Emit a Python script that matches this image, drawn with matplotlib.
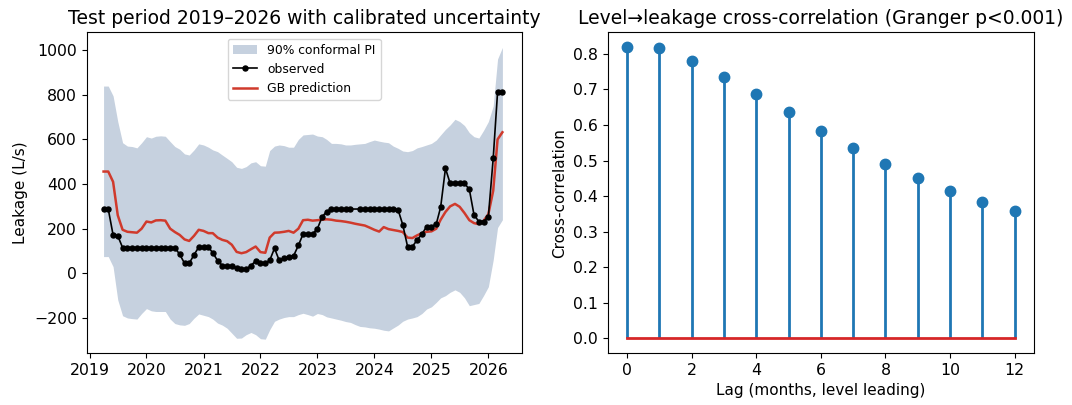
"""
Leakage test period with conformal interval + level->leakage cross-correlation
"""

import numpy as np
import pandas as pd
import matplotlib
matplotlib.use("Agg")
import matplotlib.pyplot as plt
import matplotlib.dates as mdates

# ============================================================
# Data (monthly, Apr 2019 .. Apr 2026)
# ============================================================
start_month = "2019-04-01"
n_months = 85

# observed leakage, L/s (nan = missing month)
observed = [
    288, 288, 172, 168, 115, 115, 115, 115, 115, 115,
    115, 115, 115, 115, 115, 115, 85, 45, 45, 83,
    117, 117, 117, 92, 57, 35, 33, 33, 22, 18,
    18, 35, 55, 45, 45, 58, 112, 58, 68, 75,
    78, 125, 176, 176, 176, 200, 254, 276, 288, 288,
    288, 288, 288, np.nan, 288, 288, 288, 288, 288, 288,
    288, 288, 285, 218, 120, 120, 149, 176, 209, 209,
    221, 296, 470, 403, 403, 403, 403, 376, 262, 232,
    232, 254, 515, 812, 812,
]

# gradient boosting prediction
gb_pred = [
    456, 456, 410, 260, 195, 186, 184, 182, 200, 232,
    228, 237, 238, 236, 200, 185, 172, 152, 145, 168,
    195, 190, 180, 180, 160, 150, 144, 128, 96, 90,
    95, 108, 120, 95, 92, 160, 182, 183, 186, 190,
    182, 200, 238, 240, 236, 238, 240, 242, 240, 236,
    234, 231, 227, 222, 218, 214, 205, 195, 187, 207,
    198, 194, 190, 185, 160, 158, 170, 180, 186, 188,
    200, 240, 275, 300, 311, 298, 270, 238, 225, 220,
    235, 265, 370, 600, 632,
]

# 90% conformal prediction interval
pi_upper = [
    839, 839, 795, 680, 585, 570, 568, 562, 585, 612,
    606, 614, 616, 614, 590, 568, 556, 535, 530, 553,
    580, 575, 565, 553, 545, 530, 515, 500, 475, 470,
    478, 495, 500, 482, 480, 550, 570, 575, 572, 565,
    565, 600, 620, 622, 624, 615, 612, 600, 582, 582,
    580, 575, 575, 578, 580, 582, 590, 597, 592, 588,
    585, 570, 560, 548, 545, 550, 562, 568, 575, 582,
    597, 620, 645, 665, 690, 680, 662, 630, 612, 606,
    640, 680, 750, 960, 1012,
]
pi_lower = [
    75, 75, 30, -119, -190, -200, -203, -205, -180, -158,
    -168, -171, -171, -171, -205, -225, -231, -233, -225, -201,
    -182, -188, -194, -205, -223, -232, -246, -268, -291, -290,
    -275, -265, -275, -293, -295, -253, -215, -205, -198, -194,
    -194, -185, -179, -185, -192, -180, -185, -195, -200, -205,
    -210, -216, -220, -230, -238, -240, -244, -246, -250, -255,
    -258, -245, -232, -215, -205, -200, -194, -180, -160, -150,
    -130, -110, -100, -85, -74, -85, -110, -145, -140, -135,
    -100, -60, 60, 205, 240,
]

# cross-correlation, level leading leakage
lags = list(range(13))
xcorr = [0.819, 0.817, 0.781, 0.735, 0.686, 0.636, 0.584,
         0.536, 0.491, 0.452, 0.415, 0.383, 0.359]

BAND_COLOR = "#c6d1df"
PRED_COLOR = "#d03a2c"
TICK_FS = 11.3
LABEL_FS = 11
TITLE_FS = 13.5

# ============================================================
# Figure
# ============================================================
fig = plt.figure(figsize=(10.72, 4.05), dpi=100)
ax1 = fig.add_axes([0.0809, 0.1284, 0.4058, 0.7914])
ax2 = fig.add_axes([0.5669, 0.1284, 0.3977, 0.7914])

# --- left: test period ---
dates = pd.date_range(start_month, periods=n_months, freq="MS")
obs = pd.Series(observed, index=dates).dropna()

ax1.fill_between(dates, pi_lower, pi_upper, color=BAND_COLOR, linewidth=0,
                 label="90% conformal PI")
ax1.plot(obs.index, obs.values, color="black", marker="o", markersize=3.6,
         linewidth=1.2, label="observed", zorder=3)
ax1.plot(dates, gb_pred, color=PRED_COLOR, linewidth=1.8, label="GB prediction")

ax1.set_xlim(pd.Timestamp("2018-12-14"), pd.Timestamp("2026-08-03"))
ax1.set_ylim(-357, 1079)
ax1.xaxis.set_major_locator(mdates.YearLocator())
ax1.xaxis.set_major_formatter(mdates.DateFormatter("%Y"))
ax1.tick_params(labelsize=TICK_FS)
ax1.set_ylabel("Leakage (L/s)", fontsize=LABEL_FS)
ax1.set_title("Test period 2019–2026 with calibrated uncertainty", fontsize=TITLE_FS)
ax1.legend(loc="upper center", fontsize=8.9)

# --- right: cross-correlation stems ---
markers, stems, base = ax2.stem(lags, xcorr)
markers.set_markersize(7.5)
stems.set_linewidth(2)
base.set_linewidth(2)
ax2.set_xticks(range(0, 13, 2))
ax2.set_yticks(np.arange(0, 0.81, 0.1))
ax2.tick_params(labelsize=TICK_FS)
ax2.set_xlabel("Lag (months, level leading)", fontsize=LABEL_FS)
ax2.set_ylabel("Cross-correlation", fontsize=LABEL_FS)
ax2.set_title("Level→leakage cross-correlation (Granger p<0.001)", fontsize=TITLE_FS)

plt.savefig("out.png", dpi=100)
